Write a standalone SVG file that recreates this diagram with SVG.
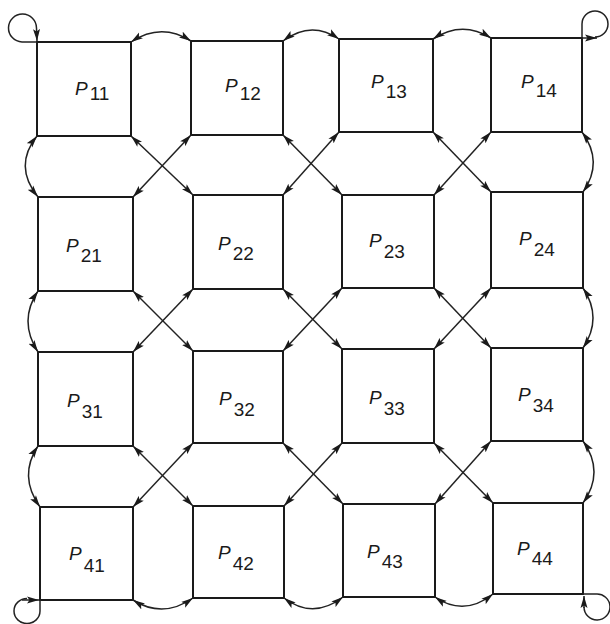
<svg xmlns="http://www.w3.org/2000/svg" width="610" height="624" viewBox="0 0 610 624">
<defs>
<marker id="ah" markerUnits="userSpaceOnUse" markerWidth="14" markerHeight="8" refX="12" refY="4" orient="auto-start-reverse">
<path d="M0,0.5 L12,4 L0,7.5 L2.5,4 z" fill="#1a1a1a"/>
</marker>
<style>
.sq{fill:none;stroke:#1a1a1a;stroke-width:2}
.c{fill:none;stroke:#222;stroke-width:1.5}
.d{fill:none;stroke:#222;stroke-width:1.5;marker-start:url(#ah);marker-end:url(#ah)}
.e{fill:none;stroke:#222;stroke-width:1.5;marker-end:url(#ah)}
.l{font-family:"Liberation Sans",Arial,sans-serif;font-size:19px;fill:#1a1a1a}
.p{font-style:italic}
</style>
</defs>
<rect width="610" height="624" fill="#fff"/>
<g id="P11"><rect class="sq" x="37" y="42" width="94" height="94"/><text class="l" x="75" y="95"><tspan class="p">P</tspan><tspan dx="2" dy="5">11</tspan></text></g>
<g id="P12"><rect class="sq" x="191" y="41" width="92" height="94"/><text class="l" x="225" y="92"><tspan class="p">P</tspan><tspan dx="2" dy="8">12</tspan></text></g>
<g id="P13"><rect class="sq" x="339" y="39" width="94" height="93"/><text class="l" x="371" y="88"><tspan class="p">P</tspan><tspan dx="2" dy="10">13</tspan></text></g>
<g id="P14"><rect class="sq" x="491" y="38" width="91" height="94"/><text class="l" x="521" y="88"><tspan class="p">P</tspan><tspan dx="2" dy="9">14</tspan></text></g>
<g id="P21"><rect class="sq" x="38" y="197" width="95" height="94"/><text class="l" x="66" y="252"><tspan class="p">P</tspan><tspan dx="2" dy="10">21</tspan></text></g>
<g id="P22"><rect class="sq" x="193" y="195" width="90" height="94"/><text class="l" x="218" y="250"><tspan class="p">P</tspan><tspan dx="2" dy="10">22</tspan></text></g>
<g id="P23"><rect class="sq" x="342" y="195" width="92" height="93"/><text class="l" x="369" y="247"><tspan class="p">P</tspan><tspan dx="2" dy="11">23</tspan></text></g>
<g id="P24"><rect class="sq" x="491" y="192" width="92" height="96"/><text class="l" x="519" y="245"><tspan class="p">P</tspan><tspan dx="2" dy="11">24</tspan></text></g>
<g id="P31"><rect class="sq" x="38" y="352" width="95" height="94"/><text class="l" x="67" y="407"><tspan class="p">P</tspan><tspan dx="2" dy="11">31</tspan></text></g>
<g id="P32"><rect class="sq" x="193" y="351" width="90" height="92"/><text class="l" x="219" y="405"><tspan class="p">P</tspan><tspan dx="2" dy="11">32</tspan></text></g>
<g id="P33"><rect class="sq" x="342" y="349" width="92" height="94"/><text class="l" x="369" y="404"><tspan class="p">P</tspan><tspan dx="2" dy="11">33</tspan></text></g>
<g id="P34"><rect class="sq" x="491" y="348" width="92" height="93"/><text class="l" x="518" y="401"><tspan class="p">P</tspan><tspan dx="2" dy="11">34</tspan></text></g>
<g id="P41"><rect class="sq" x="40" y="507" width="93" height="93"/><text class="l" x="69" y="560"><tspan class="p">P</tspan><tspan dx="2" dy="12">41</tspan></text></g>
<g id="P42"><rect class="sq" x="193" y="506" width="91" height="92"/><text class="l" x="218" y="559"><tspan class="p">P</tspan><tspan dx="2" dy="11">42</tspan></text></g>
<g id="P43"><rect class="sq" x="343" y="504" width="92" height="93"/><text class="l" x="367" y="558"><tspan class="p">P</tspan><tspan dx="2" dy="10">43</tspan></text></g>
<g id="P44"><rect class="sq" x="493" y="503" width="90" height="91"/><text class="l" x="517" y="555"><tspan class="p">P</tspan><tspan dx="2" dy="10">44</tspan></text></g>
<g id="connectors">
<path class="d" d="M131,42 Q161,22 191,41"/>
<path class="d" d="M283,41 Q311,20 339,39"/>
<path class="d" d="M433,39 Q462,20 491,38"/>
<path class="d" d="M133,600 Q163,619 193,598"/>
<path class="d" d="M284,598 Q313,620 343,597"/>
<path class="d" d="M435,597 Q464,617 493,594"/>
<path class="d" d="M37,136 Q13,166 38,197"/>
<path class="d" d="M38,291 Q18,321 38,352"/>
<path class="d" d="M38,446 Q18,476 40,507"/>
<path class="d" d="M582,132 Q604,162 583,192"/>
<path class="d" d="M583,288 Q603,318 583,348"/>
<path class="d" d="M583,441 Q605,472 583,503"/>
<path class="d" d="M131,136 L193,195"/><path class="d" d="M191,135 L133,197"/>
<path class="d" d="M283,135 L342,195"/><path class="d" d="M339,132 L283,195"/>
<path class="d" d="M433,132 L491,192"/><path class="d" d="M491,132 L434,195"/>
<path class="d" d="M133,291 L193,351"/><path class="d" d="M193,289 L133,352"/>
<path class="d" d="M283,289 L342,349"/><path class="d" d="M342,288 L283,351"/>
<path class="d" d="M434,288 L491,348"/><path class="d" d="M491,288 L434,349"/>
<path class="d" d="M133,446 L193,506"/><path class="d" d="M193,443 L133,507"/>
<path class="d" d="M283,443 L343,504"/><path class="d" d="M342,443 L284,506"/>
<path class="d" d="M434,443 L493,503"/><path class="d" d="M491,441 L435,504"/>
<path class="e" d="M37,42 L22,42 A14,14 0 1 1 36.5,28 L37,41"/>
<path class="c" d="M582,38 L582,24 A13,13 0 1 1 595,37"/>
<path class="e" d="M582,38 L597,38"/>
<path class="c" d="M40,600 L40,611 A13,12.5 0 1 1 27,598.5"/>
<path class="e" d="M22,600 L39,600"/>
<path class="c" d="M583,594 L596,594 A13,13 0 1 1 584,607"/>
<path class="e" d="M584,608 L584,596"/>
</g>
</svg>
